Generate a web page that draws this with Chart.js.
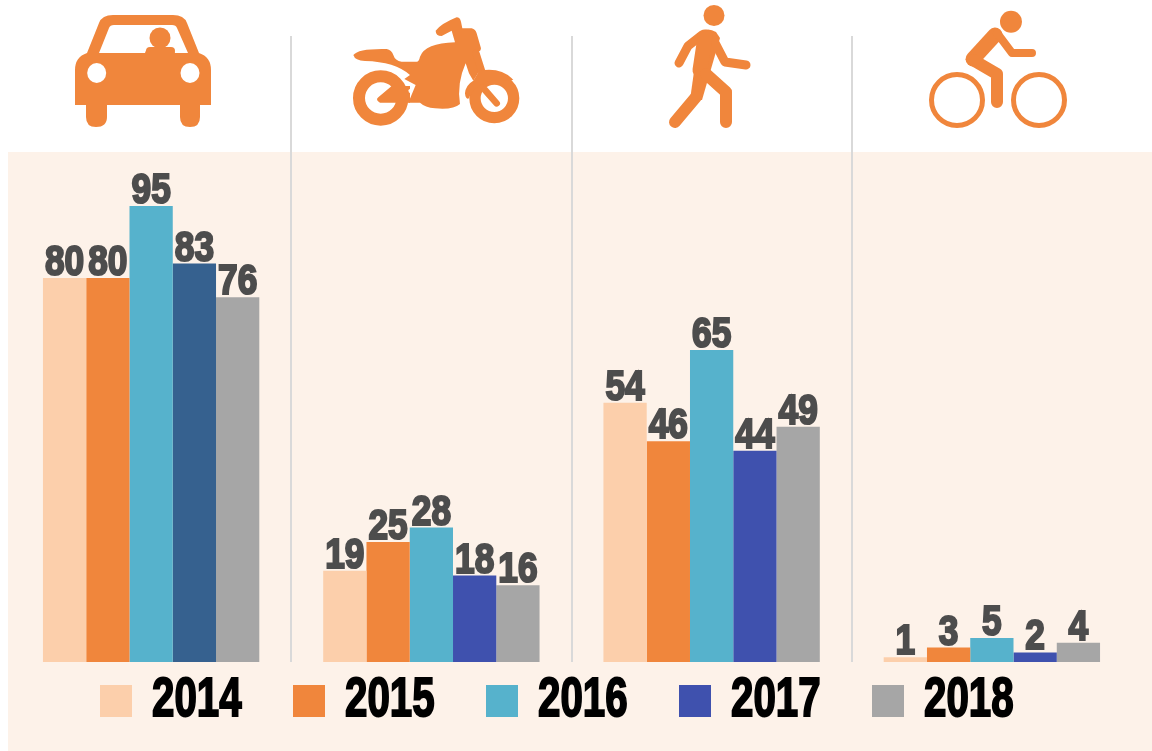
<!DOCTYPE html>
<html>
<head>
<meta charset="utf-8">
<title>Road users by year</title>
<script src="https://cdn.jsdelivr.net/npm/chart.js@4"></script>
<style>
    html, body { margin: 0; padding: 0; background: #fff; }
    #stage { position: relative; width: 1152px; height: 751px; overflow: hidden; }
    #panel { position: absolute; left: 8px; top: 152px; right: 0; bottom: 0; background: #FDF2E9; }
    #chart { position: absolute; left: 0; top: 0; }
    #icons { position: absolute; left: 0; top: 0; }
    #legend { position: absolute; left: 100px; top: 669px; display: flex; }
    .item { width: 193px; height: 56px; position: relative; }
    .swatch { position: absolute; left: 0; top: 16px; width: 32px; height: 32px; }
    .name {
        position: absolute; left: 52px; top: 0;
        font: bold 56px/56px "Liberation Sans", sans-serif;
        color: #000; -webkit-text-stroke: 2px #000;
        transform: scaleX(0.72); transform-origin: left center;
    }
</style>
</head>
<body>
<div id="stage">
    <div id="panel"></div>
    <canvas id="chart" width="1152" height="751"></canvas>
    <svg id="icons" width="1152" height="151" fill="#F0863C" stroke="none">
        <!-- car -->
        <path d="M75 105V70Q75 57 87 53L99 23Q102 15 113 15H173Q184 15 187 23L199 53Q211 57 211 70V105H200V117Q200 127 190 127Q180 127 180 117V105H107V117Q107 127 96 127Q86 127 86 117V105Z"/>
        <path fill="#fff" d="M99 53L109 28Q110 25 114 25H172Q176 25 177 28L188 53H175Q172 48 165 48H155H152Q146 48 145 53Z"/>
        <ellipse cx="160" cy="38" rx="10.5" ry="10.5"/>
        <rect x="146" y="47" width="29" height="8" rx="4"/>
        <ellipse fill="#fff" cx="96.7" cy="73" rx="9.5" ry="10"/>
        <ellipse fill="#fff" cx="190" cy="73" rx="9.5" ry="10"/>
        <!-- motorcycle, drawn in 3x units -->
        <g transform="translate(345 10) scale(0.3333)">
            <circle cx="107" cy="264" r="65" fill="none" stroke="#F0863C" stroke-width="36"/>
            <path d="M100 262L140 228H195V278H105Q90 270 100 262Z"/>
            <path fill="#fff" d="M190 240L212 225L218 248H192Z"/>
            <path d="M25 135Q40 115 125 117Q140 120 145 135Q150 152 170 155H215Q222 155 225 140Q240 100 330 97L320 62L290 78Q272 78 272 62Q290 40 335 22Q345 22 348 35L352 55H380Q392 58 395 70L408 115Q408 128 385 128L405 180L385 212L372 190L362 160Q335 220 345 282Q325 300 270 295Q240 292 225 278H190L212 225L178 207L195 195Q150 155 60 153Q30 152 25 135Z"/>
            <circle cx="448" cy="265" r="58" fill="none" stroke="#F0863C" stroke-width="34"/>
            <path fill="none" stroke="#F0863C" stroke-width="22" stroke-linecap="round" d="M393 130L420 215"/>
            <path fill="none" stroke="#F0863C" stroke-width="20" stroke-linecap="round" d="M420 240L455 280"/>
            <path d="M403 182Q470 170 505 210L470 212Q430 205 400 230Q375 250 372 265Q362 270 360 250Q362 225 385 212Z"/>
        </g>
        <!-- walker -->
        <ellipse cx="714" cy="15.5" rx="10.5" ry="10.5"/>
        <path d="M700 32Q708 27 716 32L720 38L702 100H690L697 50Z"/>
        <g fill="none" stroke="#F0863C" stroke-linecap="round" stroke-linejoin="round">
            <path stroke-width="9" d="M702 35L688 46L679 63"/>
            <path stroke-width="9" d="M712 37L725 62L746 65"/>
            <path stroke-width="15" d="M705 37L700 70"/>
            <path stroke-width="12" d="M696 97L675 122"/>
            <path stroke-width="12" d="M706 74L726 92V122"/>
        </g>
        <!-- cyclist -->
        <ellipse cx="1011" cy="21.7" rx="11" ry="11"/>
        <g fill="none" stroke="#F0863C" stroke-linecap="round" stroke-linejoin="round">
            <path stroke-width="15" d="M995 35L973 59"/>
            <path stroke-width="12" d="M973 60L997 74V102"/>
            <path stroke-width="8" d="M997 33L1012 53H1032"/>
            <circle cx="957" cy="100" r="25.5" stroke-width="5"/>
            <circle cx="1039" cy="100" r="25.5" stroke-width="5"/>
        </g>
    </svg>
    <div id="legend"></div>
</div>
<script>
    const categories = ['Car', 'Motorcycle', 'Pedestrian', 'Bicycle'];
    const years = ['2014', '2015', '2016', '2017', '2018'];

    const values2014 = [80, 19, 54, 1];
    const values2015 = [80, 25, 46, 3];
    const values2016 = [95, 28, 65, 5];
    const values2017 = [83, 18, 44, 2];
    const values2018 = [76, 16, 49, 4];

    const seriesValues = [values2014, values2015, values2016, values2017, values2018];
    const seriesColors = ['#FCCFAB', '#F0863C', '#56B2CC', '#3F51AE', '#A6A6A6'];
    const firstBar2017 = '#36618F';

    // Value labels above the bars (no datalabels plugin available)
    const barLabels = {
        id: 'barLabels',
        afterDatasetsDraw(chart) {
            const ctx = chart.ctx;
            ctx.font = 'bold 42px "Liberation Sans", sans-serif';
            ctx.fillStyle = '#4D4D4D';
            ctx.strokeStyle = '#4D4D4D';
            ctx.lineWidth = 2.2;
            ctx.textAlign = 'center';
            ctx.textBaseline = 'alphabetic';
            chart.data.datasets.forEach((dataset, i) => {
                chart.getDatasetMeta(i).data.forEach((bar, j) => {
                    const text = String(dataset.data[j]);
                    // squeeze the digits, the fonts here have no condensed bold
                    ctx.save();
                    ctx.translate(bar.x, bar.y - 3);
                    ctx.scale(0.84, 1);
                    ctx.fillText(text, 0, 0);
                    ctx.strokeText(text, 0, 0);
                    ctx.restore();
                });
            });
        }
    };

    const chart = new Chart(document.getElementById('chart').getContext('2d'), {
        type: 'bar',
        data: {
            labels: categories,
            datasets: years.map((year, i) => ({
                label: year,
                data: seriesValues[i],
                backgroundColor: i === 3
                    ? categories.map((c, j) => (j === 0 ? firstBar2017 : seriesColors[3]))
                    : seriesColors[i]
            }))
        },
        options: {
            responsive: false,
            animation: false,
            layout: { padding: { left: 11, right: 20, top: 36, bottom: 89 } },
            datasets: { bar: { barPercentage: 1, categoryPercentage: 0.772 } },
            plugins: { legend: { display: false }, tooltip: { enabled: false } },
            scales: {
                x: {
                    ticks: { display: false },
                    border: { display: false },
                    grid: {
                        drawTicks: false,
                        lineWidth: 2,
                        color: ctx => (ctx.index >= 1 && ctx.index <= 3 ? '#D9D9D9' : 'rgba(0,0,0,0)')
                    }
                },
                y: { display: false, min: 0, max: 130.4 }
            }
        },
        plugins: [barLabels]
    });

    // Legend sits in the page so the year text can be squeezed
    const legend = document.getElementById('legend');
    chart.data.datasets.forEach((dataset, i) => {
        const item = document.createElement('div');
        item.className = 'item';
        item.innerHTML = `<div class="swatch" style="background:${seriesColors[i]}"></div>` +
            `<span class="name">${dataset.label}</span>`;
        legend.appendChild(item);
    });
</script>
</body>
</html>
